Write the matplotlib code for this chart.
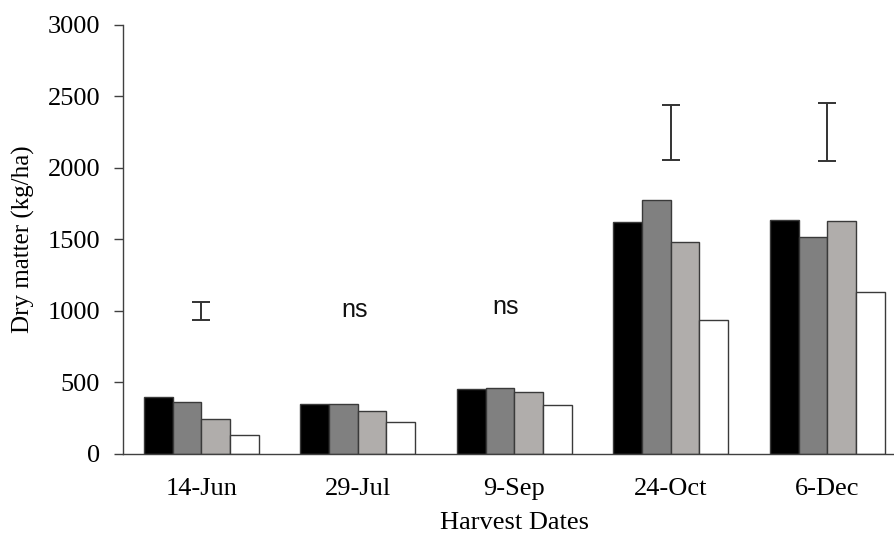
#!/usr/bin/env python3
# -*- coding: utf-8 -*-
import numpy as np
import matplotlib
matplotlib.use("Agg")
import matplotlib.pyplot as plt

# Harvest dates and dry matter yield (kg/ha) for four treatments
dates = ["14-Jun", "29-Jul", "9-Sep", "24-Oct", "6-Dec"]
trt1 = [400, 352, 455, 1620, 1638]
trt2 = [361, 352, 462, 1778, 1517]
trt3 = [245, 299, 434, 1483, 1627]
trt4 = [131, 226, 345, 935, 1131]
series = [trt1, trt2, trt3, trt4]
colors = ["#000000", "#808080", "#b0adab", "#ffffff"]

# LSD bars (low, high) per date; None where not significant
lsd_low = [935, None, None, 2056, 2049]
lsd_high = [1061, None, None, 2443, 2452]
ns_y = [None, 1007, 1030, None, None]
ns_dx = [0, -0.02, -0.055, 0, 0]

plt.rcParams["font.family"] = ["Liberation Serif", "DejaVu Serif"]

fig = plt.figure(figsize=(8.95, 5.36), dpi=100)
ax = fig.add_axes([0.1374, 0.153, 0.8743, 0.8004])

x = np.arange(len(dates))
w = 0.183
for i, vals in enumerate(series):
    ax.bar(x + (i - 1.5) * w, vals, width=w, color=colors[i],
           edgecolor="#3a3a3a", linewidth=1.0, zorder=2)

for xi, lo, hi in zip(x, lsd_low, lsd_high):
    if lo is None:
        continue
    ax.errorbar(xi, (lo + hi) / 2, yerr=(hi - lo) / 2, fmt="none",
                ecolor="#333333", elinewidth=1.4, capsize=6.5, capthick=1.4)

for xi, dx, y in zip(x, ns_dx, ns_y):
    if y is None:
        continue
    ax.text(xi + dx, y, "ns", ha="center", va="center", fontsize=18,
            family=["Liberation Sans", "DejaVu Sans"], color="#111111")

ax.set_xlim(-0.5, len(dates) - 0.5)
ax.set_ylim(0, 3000)
ax.set_yticks(np.arange(0, 3001, 500))
ax.set_xticks(x)
ax.set_xticklabels(dates)
ax.tick_params(axis="x", length=0, pad=17, labelsize=19)
ax.tick_params(axis="y", length=6.5, width=1.0, pad=10, labelsize=19,
               color="#404040", direction="out")

for s in ["top", "right"]:
    ax.spines[s].set_visible(False)
for s in ["left", "bottom"]:
    ax.spines[s].set_color("#404040")
    ax.spines[s].set_linewidth(1.0)

ax.set_xlabel("Harvest Dates", fontsize=19, labelpad=9)
ax.set_ylabel("Dry matter (kg/ha)", fontsize=18, labelpad=9)

fig.savefig("out.png", dpi=100)
